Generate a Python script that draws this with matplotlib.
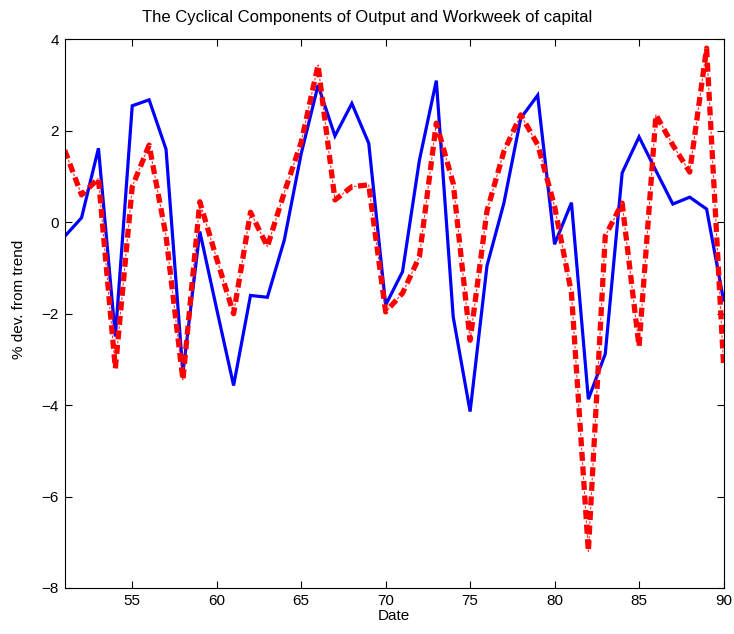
import matplotlib
matplotlib.use("Agg")
import matplotlib.pyplot as plt
import numpy as np

plt.rcParams['font.family'] = ['Liberation Sans', 'DejaVu Sans']
plt.rcParams['lines.scale_dashes'] = False

years = list(range(51, 91))

output_dev = [-0.31, 0.10, 1.62, -2.50, 2.55, 2.68, 1.60, -3.30, -0.20, -1.90,
              -3.57, -1.60, -1.64, -0.39, 1.50, 3.00, 1.89, 2.60, 1.73, -1.81,
              -1.08, 1.36, 3.10, -2.07, -4.14, -0.95, 0.42, 2.28, 2.78, -0.48,
              0.43, -3.87, -2.88, 1.08, 1.87, 1.13, 0.40, 0.55, 0.29, -1.70]

workweek_dev = [1.58, 0.60, 0.96, -3.20, 0.78, 1.69, -0.30, -3.45, 0.45, -0.80,
                -2.00, 0.22, -0.53, 0.65, 1.75, 3.44, 0.49, 0.78, 0.82, -1.96,
                -1.55, -0.75, 2.17, 0.85, -2.58, 0.25, 1.55, 2.35, 1.70, 0.35,
                -1.55, -7.20, -0.30, 0.42, -2.72, 2.35, 1.69, 1.10, 3.81, -3.09]

xticks = [55, 60, 65, 70, 75, 80, 85, 90]
yticks = [-8, -6, -4, -2, 0, 2, 4]

fig = plt.figure(figsize=(7.34, 6.34), dpi=100)
ax = fig.add_axes([0.0881, 0.0726, 0.8976, 0.8651])

ax.plot(years, output_dev, color=(0, 0, 1), lw=2.3, solid_joinstyle='miter')

# thick dashes plus thin dots form the dash-dot pattern
ax.plot(years, workweek_dev, color=(1, 0, 0), lw=3.8,
        linestyle=(0, (6.5, 4.0)), dash_capstyle='butt')
ax.plot(years, workweek_dev, color=(1, 0, 0), lw=0.8, alpha=0.8,
        linestyle=(3.0, (2.0, 8.5)), dash_capstyle='butt')

ax.set_xlim(51, 90)
ax.set_ylim(-8, 4)
ax.set_xticks(xticks)
ax.set_yticks(yticks)
ax.set_yticklabels([f"{v}".replace('-', '\u2212') for v in yticks])
ax.tick_params(direction='in', top=True, right=True, length=5, width=0.8,
               labelsize=11, pad=4)
for s in ax.spines.values():
    s.set_linewidth(0.8)

# title centred on the whole figure
fig.text(0.5, 0.972, 'The Cyclical Components of Output and Workweek of capital',
         ha='center', va='center', fontsize=12)
ax.set_xlabel('Date', fontsize=11, labelpad=1)
ax.set_ylabel('% dev. from trend', fontsize=11)
ax.yaxis.set_label_coords(-0.059, 0.527)

fig.savefig('out.png', dpi=100)
